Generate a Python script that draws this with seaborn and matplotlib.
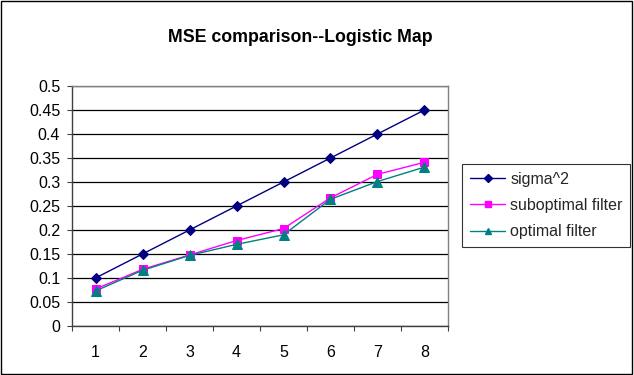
import numpy as np
import pandas as pd
import matplotlib
matplotlib.use("Agg")
import matplotlib.pyplot as plt
import seaborn as sns
from matplotlib.patches import Rectangle
from matplotlib.lines import Line2D

# Data
steps = [1, 2, 3, 4, 5, 6, 7, 8]
sigma_sq = [0.10, 0.15, 0.20, 0.25, 0.30, 0.35, 0.40, 0.45]
suboptimal = [0.077, 0.118, 0.148, 0.178, 0.203, 0.267, 0.316, 0.341]
optimal = [0.073, 0.116, 0.147, 0.170, 0.190, 0.264, 0.301, 0.331]
series_names = ["sigma^2", "suboptimal filter", "optimal filter"]
y_ticks = [0, 0.05, 0.1, 0.15, 0.2, 0.25, 0.3, 0.35, 0.4, 0.45, 0.5]
y_labels = ["0", "0.05", "0.1", "0.15", "0.2", "0.25", "0.3", "0.35", "0.4", "0.45", "0.5"]

df = pd.DataFrame({
    "step": steps * 3,
    "mse": sigma_sq + suboptimal + optimal,
    "series": [series_names[0]] * 8 + [series_names[1]] * 8 + [series_names[2]] * 8,
})

sns.set_theme(style="white")
plt.rcParams["font.family"] = ["Liberation Sans", "DejaVu Sans"]

fig = plt.figure(figsize=(6.34, 3.75), dpi=100)
ax = fig.add_axes([0.1136, 0.1307, 0.593, 0.640])

palette = {series_names[0]: "#000080", series_names[1]: "#FF00FF", series_names[2]: "#008080"}
markers = {series_names[0]: "D", series_names[1]: "s", series_names[2]: "^"}
sizes = {series_names[0]: 5, series_names[1]: 6, series_names[2]: 6.5}

for name in series_names:
    sub = df[df["series"] == name]
    sns.lineplot(data=sub, x="step", y="mse", ax=ax, color=palette[name],
                 marker=markers[name], markersize=sizes[name],
                 markeredgecolor=palette[name], linewidth=1.0, legend=False)

ax.set_xlim(0.5, 8.5)
ax.set_ylim(0, 0.5)
ax.set_yticks(y_ticks)
ax.set_yticklabels(y_labels, fontsize=11.5, color="black")
ax.yaxis.grid(True, color="black", linewidth=0.9)
ax.xaxis.grid(False)
ax.set_axisbelow(True)

# category labels centred between boundary tick marks
ax.set_xticks(np.arange(0.5, 9.0, 1.0))
ax.set_xticklabels([])
ax.set_xticks(steps, minor=True)
ax.set_xticklabels([str(s) for s in steps], minor=True, fontsize=11.5, color="black")
ax.tick_params(axis="x", which="major", length=3.5, width=0.8, color="#404040", direction="out", bottom=True)
ax.tick_params(axis="x", which="minor", length=0, pad=13.5)
ax.tick_params(axis="y", length=3.5, width=0.8, color="#404040", direction="out", left=True, pad=5)
ax.set_xlabel("")
ax.set_ylabel("")

for side in ["left", "bottom", "right", "top"]:
    ax.spines[side].set_visible(True)
    ax.spines[side].set_color("#808080")
    ax.spines[side].set_linewidth(1.0)
ax.spines["left"].set_color("#404040")
ax.spines["bottom"].set_color("#404040")

fig.text(0.473, 0.899, "MSE comparison--Logistic Map", ha="center", va="center",
         fontsize=12.8, fontweight="bold", color="black")

# legend keys with smaller markers than the plotted points
handles = [Line2D([], [], color=palette[n], marker=markers[n], markersize=4.5,
                  markeredgecolor=palette[n], linewidth=1.0) for n in series_names]
leg = fig.legend(handles, series_names, loc="upper left", bbox_to_anchor=(0.729, 0.563),
                 frameon=True, fancybox=False, fontsize=11.5, handlelength=2.2,
                 handletextpad=0.3, borderpad=0.5, labelspacing=0.7,
                 borderaxespad=0)
leg.get_frame().set_edgecolor("black")
leg.get_frame().set_linewidth(0.8)

# outer frame around the chart
fig.patches.append(Rectangle((0.002, 0.003), 0.995, 0.994, transform=fig.transFigure,
                             fill=False, edgecolor="black", linewidth=1.0))

fig.savefig("out.png", dpi=100)
